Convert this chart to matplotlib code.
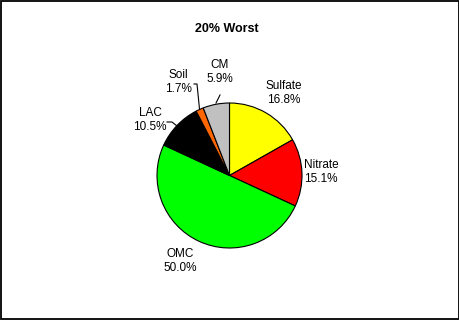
import matplotlib
matplotlib.use("Agg")
import matplotlib.pyplot as plt
from matplotlib.patches import Rectangle

categories = ["Sulfate", "Nitrate", "OMC", "LAC", "Soil", "CM"]
values = [16.8, 15.1, 50.0, 10.5, 1.7, 5.9]
title = "20% Worst"

colors = ["#ffff00", "#ff0000", "#00ff00", "#000000", "#ff6600", "#c0c0c0"]

# layout (pixel coordinates, y measured from top)
W, H = 460, 320
center_px = (229.5, 175.5)
radius_px = 72.5
label_pos_px = {
    "Sulfate": (284, 93),
    "Nitrate": (321, 172),
    "OMC": (180, 261),
    "LAC": (150, 120),
    "Soil": (178, 82),
    "CM": (220, 72),
}
leaders_px = {
    "Soil": [(194, 84), (197, 84), (199.5, 109)],
    "CM": [(220, 95), (216, 103)],
    "LAC": [(167, 122), (172, 122), (177, 126)],
}

plt.rcParams["font.family"] = ["Liberation Sans", "DejaVu Sans"]
fig = plt.figure(figsize=(W / 100, H / 100), dpi=100)
ax = fig.add_axes([0, 0, 1, 1])

ax.pie(values, colors=colors, startangle=90, counterclock=False,
       center=(center_px[0], H - center_px[1]), radius=radius_px,
       wedgeprops=dict(edgecolor="black", linewidth=0.8), frame=True)
ax.set_xlim(0, W)
ax.set_ylim(0, H)
ax.set_aspect("auto")
ax.axis("off")

for cat, v in zip(categories, values):
    x, y = label_pos_px[cat]
    ax.text(x, H - y, f"{cat}\n{v:.1f}%", ha="center", va="center",
            fontsize=8.5, linespacing=1.25)

for cat, pts in leaders_px.items():
    xs = [p[0] for p in pts]
    ys = [H - p[1] for p in pts]
    ax.plot(xs, ys, color="black", linewidth=0.8)

ax.text(227, H - 29, title, ha="center", va="center", fontsize=9,
        fontweight="bold")

ax.add_patch(Rectangle((1, 1), W - 2, H - 2, fill=False,
                       edgecolor="black", linewidth=1.3, clip_on=False))

fig.savefig("out.png", dpi=100, facecolor="white")
